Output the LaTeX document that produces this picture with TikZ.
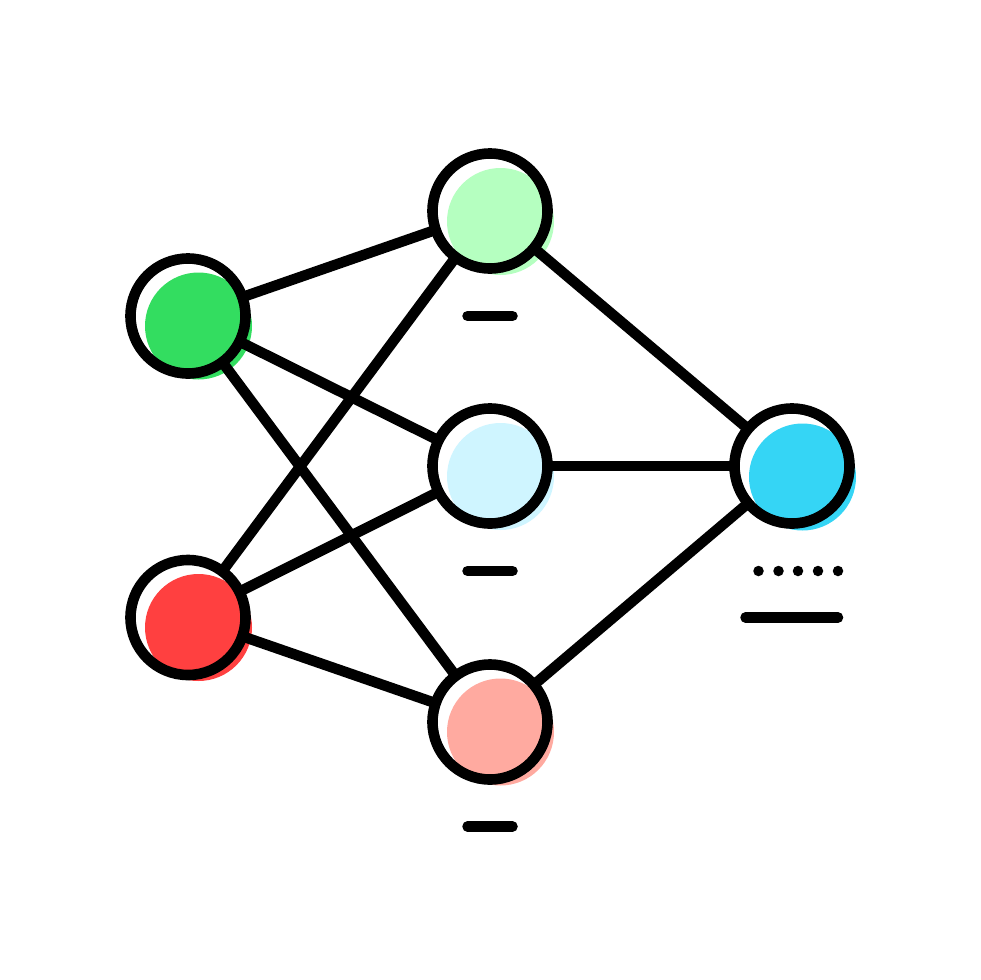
\documentclass[tikz,border=0pt]{standalone}
\definecolor{cA}{HTML}{33DD60}
\definecolor{cB}{HTML}{FF4040}
\definecolor{cC}{HTML}{B5FFC0}
\definecolor{cD}{HTML}{CFF5FF}
\definecolor{cE}{HTML}{FFAAA0}
\definecolor{cF}{HTML}{35D5F5}
\tikzset{
  ring/.style={circle,draw=black,line width=10.6pt,minimum size=115pt,inner sep=0pt,outer sep=0pt},
  blob/.style={circle,draw=none,minimum size=107pt,inner sep=0pt,outer sep=0pt},
  link/.style={draw=black,line width=10.5pt},
  rule/.style={draw=black,line width=10.5pt,line cap=round},
  tick/.style={circle,fill=black,draw=none,minimum size=10.5pt,inner sep=0pt,outer sep=0pt}
}
\begin{document}
\begin{tikzpicture}[x=1pt,y=-1pt]
\useasboundingbox (0,0) rectangle (980,980);
\fill[white] (0,0) rectangle (980,980);
% offset colour discs
\node[blob,fill=cA] (ba) at (198.5,326) {};
\node[blob,fill=cB] (bb) at (198.5,627.5) {};
\node[blob,fill=cC] (bc) at (500.5,221.5) {};
\node[blob,fill=cD] (bd) at (500.5,476.5) {};
\node[blob,fill=cE] (be) at (500.5,732) {};
\node[blob,fill=cF] (bf) at (802.5,477) {};
% rings
\node[ring] (a) at (188,316) {};
\node[ring] (b) at (188,617.5) {};
\node[ring] (c) at (490,211) {};
\node[ring] (d) at (490,466) {};
\node[ring] (e) at (490,722) {};
\node[ring] (f) at (792,466) {};
% connectors
\draw[link] (a) -- (c);
\draw[link] (a) -- (d);
\draw[link] (a) -- (e);
\draw[link] (b) -- (c);
\draw[link] (b) -- (d);
\draw[link] (b) -- (e);
\draw[link] (c) -- (f);
\draw[link] (d) -- (f);
\draw[link] (e) -- (f);
% short rules
\coordinate (r1a) at (467.5,316); \coordinate (r1b) at (512.5,316);
\coordinate (r2a) at (467.5,571); \coordinate (r2b) at (512.5,571);
\coordinate (r3a) at (467.5,826.5); \coordinate (r3b) at (512.5,826.5);
\coordinate (r4a) at (745.5,617.5); \coordinate (r4b) at (838,617.5);
\draw[rule] (r1a) -- (r1b);
\draw[rule] (r2a) -- (r2b);
\draw[rule] (r3a) -- (r3b);
\draw[rule] (r4a) -- (r4b);
\node[tick] (t1) at (758.5,571) {};
\node[tick] (t2) at (778.5,571) {};
\node[tick] (t3) at (798,571) {};
\node[tick] (t4) at (818,571) {};
\node[tick] (t5) at (838,571) {};
\end{tikzpicture}
\end{document}
